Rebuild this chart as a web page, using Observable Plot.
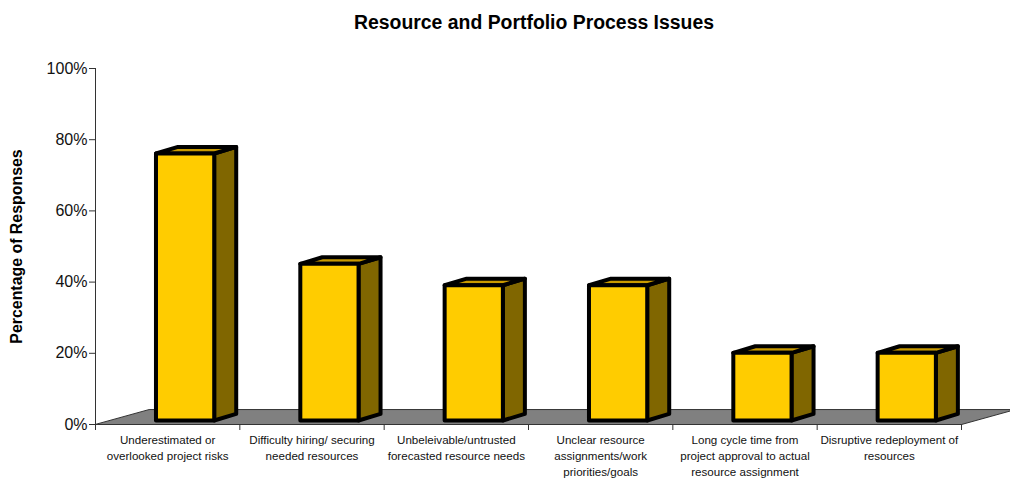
<!DOCTYPE html>
<html>
<head>
<meta charset="utf-8">
<script src="https://cdn.jsdelivr.net/npm/d3@7"></script>
<script src="https://cdn.jsdelivr.net/npm/@observablehq/plot@0.6"></script>
<style>
  html, body { margin: 0; padding: 0; background: #fff; overflow: hidden; }
  svg { display: block; }
</style>
</head>
<body>
<div id="chart"></div>
<script>
const categories = [
  "Underestimated or\noverlooked project risks",
  "Difficulty hiring/ securing\nneeded resources",
  "Unbeleivable/untrusted\nforecasted resource needs",
  "Unclear resource\nassignments/work\npriorities/goals",
  "Long cycle time from\nproject approval to actual\nresource assignment",
  "Disruptive redeployment of\nresources"
];
const responses = [75, 44, 38, 38, 19, 19];
const percentTicks = [0, 20, 40, 60, 80, 100];

// Oblique projection, in data units: x counts categories, y counts percent.
const floorDepth = {x: 0.374, y: 4.2};
const barDepth = {x: 0.1524, y: 1.85};
const barInset = {left: 0.419, right: 0.8225, base: 1.124};

const rows = responses.map((value, i) => ({
  i,
  value,
  label: categories[i],
  x0: i + barInset.left,
  x1: i + barInset.right,
  y0: barInset.base,
  y1: barInset.base + value
}));

// One closed outline per bar face.
const face = (corners) => rows.flatMap((r) =>
  corners(r).map(([x, y]) => ({id: r.i, x, y}))
);
const frontFace = face((r) => [[r.x0, r.y0], [r.x1, r.y0], [r.x1, r.y1], [r.x0, r.y1]]);
const sideFace = face((r) => [
  [r.x1, r.y0], [r.x1 + barDepth.x, r.y0 + barDepth.y],
  [r.x1 + barDepth.x, r.y1 + barDepth.y], [r.x1, r.y1]
]);
const topFace = face((r) => [
  [r.x0, r.y1], [r.x1, r.y1],
  [r.x1 + barDepth.x, r.y1 + barDepth.y], [r.x0 + barDepth.x, r.y1 + barDepth.y]
]);
const floor = [
  {x: 0, y: 0}, {x: 6, y: 0},
  {x: 6 + floorDepth.x, y: floorDepth.y}, {x: floorDepth.x, y: floorDepth.y}
];

const faceStyle = (fill) => ({
  x: "x", y: "y", z: "id", fill, stroke: "#000", strokeWidth: 4,
  strokeLinejoin: "round", curve: "linear-closed"
});

const chart = Plot.plot({
  width: 1010,
  height: 478,
  marginLeft: 95,
  marginRight: 49,
  marginTop: 68,
  marginBottom: 54,
  style: {fontFamily: "'Liberation Sans', Arial, sans-serif", background: "#fff", color: "#111"},
  x: {type: "linear", domain: [0, 6]},
  y: {domain: [0, 100]},
  marks: [
    Plot.line(floor, {x: "x", y: "y", fill: "#808080", stroke: "#333", strokeWidth: 1, curve: "linear-closed"}),
    Plot.ruleX([0], {stroke: "#333"}),
    Plot.ruleY([0], {stroke: "#333"}),
    Plot.axisY({
      ticks: percentTicks, tickFormat: (d) => d + "%", tickSize: 6, tickPadding: 2,
      fontSize: 16, label: null, stroke: "#333"
    }),
    Plot.axisX({
      ticks: d3.range(7), tickFormat: () => "", tickSize: 6, label: null, stroke: "#333"
    }),
    Plot.text(rows, {
      x: (d) => d.i + 0.5, y: 0, text: "label", dy: 8, lineAnchor: "top",
      lineHeight: 1.38, fontSize: 11.6, fill: "#111"
    }),
    Plot.line(sideFace, faceStyle("#806600")),
    Plot.line(topFace, faceStyle("#c99a00")),
    Plot.line(frontFace, faceStyle("#ffcc00")),
    Plot.text(["Resource and Portfolio Process Issues"], {
      frameAnchor: "top", dx: 5.5, dy: -46, fontSize: 19.4, fontWeight: "bold", fill: "#000",
      lineAnchor: "middle"
    }),
    Plot.text(["Percentage of Responses"], {
      frameAnchor: "left", textAnchor: "middle", rotate: -90, dx: -79, fontSize: 15.9, fontWeight: "bold", fill: "#000"
    })
  ]
});

document.getElementById("chart").append(chart);
</script>
</body>
</html>
